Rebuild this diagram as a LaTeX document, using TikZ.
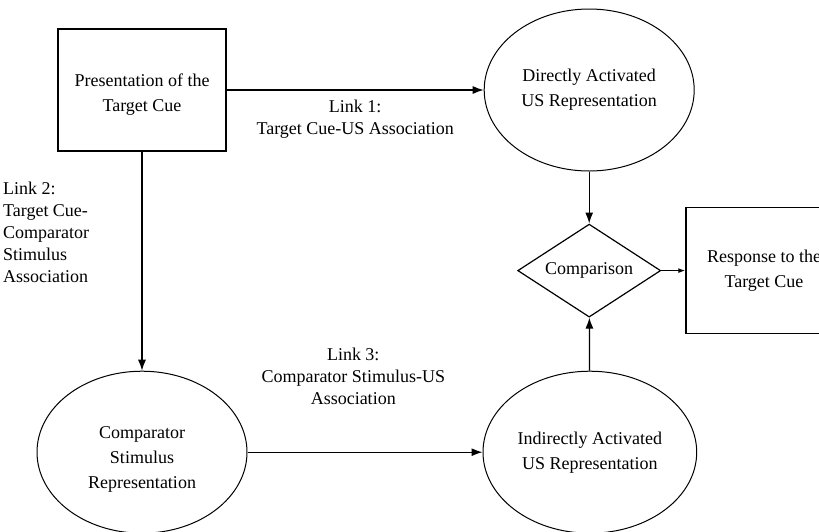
\documentclass[tikz,border=0pt]{standalone}
\usepackage{fontspec}
\setmainfont{Liberation Serif}
\usetikzlibrary{positioning, shapes.geometric, arrows.meta}
\tikzset{%
  box/.style={draw, line width=1.4pt, rectangle, align=center},
  oval/.style={draw, line width=1pt, ellipse, align=center,
    minimum width=210pt, minimum height=162pt},
  link/.style={align=center, font=\fontsize{18}{22}\selectfont},
  every edge/.style={draw, line width=1.2pt}
}
\newcommand{\topgap}[1]{\rule{0pt}{#1}}% pushes the first line down a bit

\begin{document}
\begin{tikzpicture}[>={Latex[length=11pt,width=8pt]}, line width=1.2pt,
  every node/.style={font=\fontsize{18}{25}\selectfont}]
\clip (0,0) rectangle (819pt,-531pt);

\node[box, minimum width=168pt, minimum height=122pt] (cue) at (142pt,-90pt) {\topgap{22pt}Presentation of the\\Target Cue};
\node[oval, right=257pt of cue] (direct) {Directly Activated\\US Representation};
\node[oval, below=219pt of cue] (compstim) {\topgap{26pt}Comparator\\Stimulus\\Representation};
\node[oval, right=235pt of compstim] (indirect) {Indirectly Activated\\US Representation};
\node[diamond, draw, line width=1.2pt, below=52pt of direct, minimum width=143pt,
  minimum height=93pt, aspect=1.54, inner sep=0pt] (compare) {Comparison};
\node[box, right=24pt of compare, minimum width=156pt, minimum height=126pt] (response) {Response to the\\Target Cue};

\draw[->] (cue) -- node[link, below=6pt] (l1) {Link 1:\\Target Cue-US Association} (direct);
\draw[->] (cue) -- node[link, pos=0.37, left=49pt, align=left] (l2) {Link 2:\\Target Cue-\\Comparator\\Stimulus\\Association} (compstim);
\draw[->] (compstim) -- node[link, pos=0.45, above=44pt] (l3) {Link 3:\\Comparator Stimulus-US\\Association} (indirect);
\draw[->] (direct) -- (compare);
\draw[->] (indirect) -- (compare);
\draw[-{Latex[length=7pt,width=5pt]}] (compare.east) -- (compare.east -| response.west);

\end{tikzpicture}
\end{document}
